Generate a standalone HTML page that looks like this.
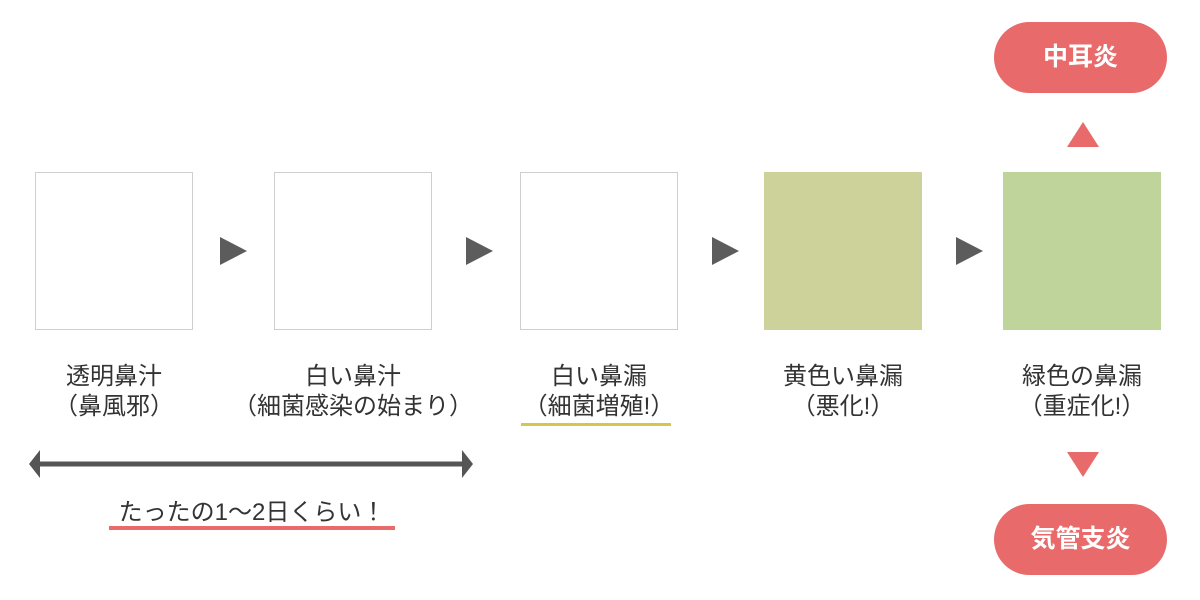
<!DOCTYPE html>
<html><head><meta charset="utf-8"><style>
body{margin:0;width:1200px;height:600px;background:#fff;position:relative;overflow:hidden;font-family:"Liberation Sans","Noto Sans CJK JP",sans-serif;color:#333}
.b{position:absolute;top:172px;width:158px;height:158px;box-sizing:border-box}
.w{border:1px solid #cfcfcf;background:#fff}
.t{position:absolute;top:362px;width:260px;text-align:center;font-size:24px;line-height:30px}
.pill{position:absolute;left:994px;width:173px;height:71px;border-radius:36px;background:#e86a6a;color:#fff;font-weight:bold;font-size:25px;text-align:center;line-height:71px}
.ar{position:absolute;width:0;height:0;border-top:14px solid transparent;border-bottom:14px solid transparent;border-left:27px solid #5c5c5c;top:237px}
</style></head><body>
<div class="b w" style="left:35px"></div>
<div class="b w" style="left:274px"></div>
<div class="b w" style="left:520px"></div>
<div class="b" style="left:764px;background:#ccd299"></div>
<div class="b" style="left:1003px;background:#bed49a"></div>
<div class="ar" style="left:220px"></div>
<div class="ar" style="left:466px"></div>
<div class="ar" style="left:712px"></div>
<div class="ar" style="left:956px"></div>
<div class="t" style="left:-16px">透明鼻汁<br>（鼻風邪）</div>
<div class="t" style="left:223px">白い鼻汁<br>（細菌感染の始まり）</div>
<div class="t" style="left:469px">白い鼻漏<br>（細菌増殖!）</div>
<div class="t" style="left:713px">黄色い鼻漏<br>（悪化!）</div>
<div class="t" style="left:952px">緑色の鼻漏<br>（重症化!）</div>
<div style="position:absolute;left:521px;top:423px;width:150px;height:3px;background:#d3c84a"></div>
<div class="pill" style="top:22px">中耳炎</div>
<div class="pill" style="top:504px">気管支炎</div>
<div style="position:absolute;left:1067px;top:122px;border-left:16px solid transparent;border-right:16px solid transparent;border-bottom:25px solid #e86a6a"></div>
<div style="position:absolute;left:1067px;top:452px;border-left:16px solid transparent;border-right:16px solid transparent;border-top:25px solid #e86a6a"></div>
<svg style="position:absolute;left:0;top:0" width="1200" height="600">
<line x1="40" y1="464" x2="462" y2="464" stroke="#555" stroke-width="5"/>
<polygon points="29,464 40,450 40,478" fill="#555"/>
<polygon points="473,464 462,450 462,478" fill="#555"/>
<rect x="109" y="526" width="286" height="4" fill="#e86a6a"/>
</svg>
<div style="position:absolute;left:92px;top:492px;width:320px;text-align:center;font-size:24px">たったの1～2日くらい！</div>
</body></html>
